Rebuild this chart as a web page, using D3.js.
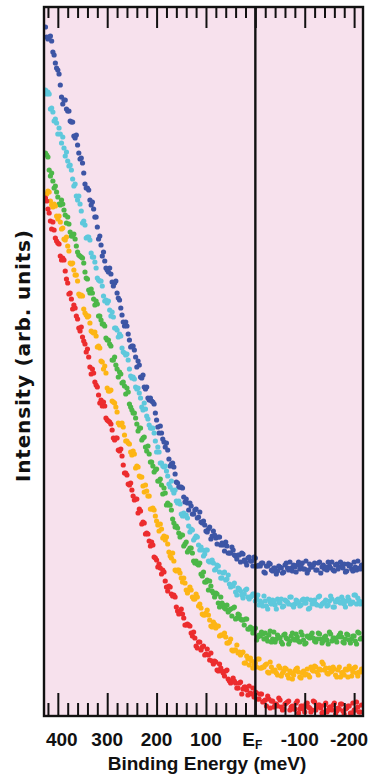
<!DOCTYPE html>
<html>
<head>
<meta charset="utf-8">
<script src="https://cdn.jsdelivr.net/npm/d3@7"></script>
<style>
  html, body { margin: 0; padding: 0; background: #ffffff; }
  svg { display: block; }
</style>
</head>
<body>
<svg id="chart" width="371" height="780"></svg>
<script>
// Binding energies of the two interleaved sweeps (meV, positive = below E_F)
const energySweep1 = [
  425,420,415,410,405,400,395,390,385,380,375,370,365,360,355,350,345,340,335,330,
  325,320,315,310,305,300,295,290,285,280,275,270,265,260,255,250,245,240,235,230,
  225,220,215,210,205,200,195,190,185,180,175,170,165,160,155,150,145,140,135,130,
  125,120,115,110,105,100,95,90,85,80,75,70,65,60,55,50,45,40,35,30,
  25,20,15,10,5,0,-5,-10,-15,-20,-25,-30,-35,-40,-45,-50,-55,-60,-65,-70,
  -75,-80,-85,-90,-95,-100,-105,-110,-115,-120,-125,-130,-135,-140,-145,-150,-155,-160,-165,-170,
  -175,-180,-185,-190,-195,-200,-205,-210,-215
];
const energySweep2 = [
  422.5,417.5,412.5,407.5,402.5,397.5,392.5,387.5,382.5,377.5,372.5,367.5,362.5,357.5,352.5,347.5,
  342.5,337.5,332.5,327.5,322.5,317.5,312.5,307.5,302.5,297.5,292.5,287.5,282.5,277.5,272.5,267.5,
  262.5,257.5,252.5,247.5,242.5,237.5,232.5,227.5,222.5,217.5,212.5,207.5,202.5,197.5,192.5,187.5,
  182.5,177.5,172.5,167.5,162.5,157.5,152.5,147.5,142.5,137.5,132.5,127.5,122.5,117.5,112.5,107.5,
  102.5,97.5,92.5,87.5,82.5,77.5,72.5,67.5,62.5,57.5,52.5,47.5,42.5,37.5,32.5,27.5,
  22.5,17.5,12.5,7.5,2.5,-2.5,-7.5,-12.5,-17.5,-22.5,-27.5,-32.5,-37.5,-42.5,-47.5,-52.5,
  -57.5,-62.5,-67.5,-72.5,-77.5,-82.5,-87.5,-92.5,-97.5,-102.5,-107.5,-112.5,-117.5,-122.5,-127.5,-132.5,
  -137.5,-142.5,-147.5,-152.5,-157.5,-162.5,-167.5,-172.5,-177.5,-182.5,-187.5,-192.5,-197.5,-202.5,-207.5,-212.5
];

// Intensity (arb. units), one value per energy of the matching sweep
const blueSweep1 = [
  689,677,680,664,653,646,631,612,616,605,595,594,578,571,557,553,532,528,516,514,
  499,489,480,460,455,446,448,434,433,423,416,401,390,390,376,370,366,349,351,338,
  329,329,316,315,312,296,283,283,274,273,257,252,249,234,229,229,219,217,206,210,
  202,207,199,194,195,185,187,177,185,178,179,171,171,174,163,163,166,160,161,154,
  162,154,158,155,150,158,150,150,153,143,150,152,145,148,145,149,143,151,148,154,
  145,149,151,147,153,147,143,152,149,153,146,154,149,147,146,150,154,145,152,149,
  150,152,145,150,147,154,146,148,151
];
const blueSweep2 = [
  679,679,675,661,648,642,619,616,607,605,594,580,581,563,558,543,528,526,511,507,
  499,477,471,464,448,444,442,430,435,418,408,394,394,382,369,370,359,355,339,341,
  327,318,318,314,303,289,290,277,269,266,250,253,242,233,229,228,214,213,213,202,
  206,198,204,193,191,184,189,180,181,172,179,173,165,170,163,169,161,157,161,163,
  156,151,159,155,159,150,151,153,144,150,153,146,148,142,150,148,144,153,146,148,
  151,144,154,150,147,155,146,149,151,146,153,143,151,149,154,148,146,151,147,154,
  148,144,152,151,145,149,155,147
];
const cyanSweep1 = [
  626,624,607,604,597,582,582,579,560,555,551,537,532,516,512,493,491,479,476,459,
  454,438,435,430,415,413,406,404,388,386,382,368,363,362,347,338,337,327,323,309,
  313,300,291,288,283,264,264,253,249,245,232,235,223,215,215,202,203,201,190,187,
  176,180,171,169,160,166,155,155,153,147,150,138,143,136,141,129,130,124,128,125,
  118,126,119,119,122,115,121,115,110,115,107,114,116,111,117,113,109,116,114,119,
  111,112,115,110,116,113,117,108,112,116,111,120,112,114,110,115,117,109,116,114,
  119,112,115,116,113,121,112,115,114
];
const cyanSweep2 = [
  622,622,608,595,593,588,573,568,564,550,546,530,520,520,505,495,478,479,463,459,
  448,436,435,420,416,415,400,399,388,379,380,364,361,356,340,339,329,328,318,306,
  307,297,288,288,275,269,253,250,250,240,229,226,226,213,212,200,200,198,184,186,
  178,179,166,166,162,166,154,156,146,151,144,138,144,137,132,131,133,121,127,121,
  122,127,117,120,122,118,111,113,120,110,117,112,115,107,114,117,110,115,112,119,
  109,116,113,111,117,113,107,116,114,112,119,110,113,116,111,120,109,114,117,113,
  116,109,119,112,114,121,118,112
];
const greenSweep1 = [
  563,559,540,535,530,519,511,512,501,499,484,480,477,464,460,458,444,437,423,423,
  411,412,400,392,390,376,372,356,359,347,344,333,330,328,312,306,303,292,288,276,
  279,265,262,254,244,247,235,231,228,211,211,206,193,190,183,181,170,174,166,168,
  155,155,151,142,144,134,126,130,123,123,113,119,111,107,104,107,108,97,102,97,
  96,97,87,89,83,88,79,80,82,83,75,85,77,74,81,78,72,82,77,75,
  83,76,79,74,81,72,80,78,83,75,77,82,73,79,76,84,75,78,74,81,
  79,73,82,76,77,80,72,83,78
];
const greenSweep2 = [
  561,546,543,528,524,512,516,506,493,492,480,482,470,461,459,453,438,426,427,417,
  415,400,396,392,378,376,370,356,351,339,342,334,322,324,309,303,298,285,288,278,
  269,270,254,250,246,235,237,222,223,213,211,197,189,188,179,181,172,164,168,163,
  153,152,153,140,134,136,135,125,119,122,109,113,108,111,106,100,109,98,101,96,
  91,97,87,87,87,76,81,84,77,78,81,74,84,77,79,74,81,78,72,80,
  77,82,75,84,76,73,79,81,78,74,83,77,75,80,72,82,78,76,79,83,
  74,77,81,73,80,75,84,77
];
const orangeSweep1 = [
  522,525,515,509,510,497,494,488,476,470,453,453,441,435,420,420,403,399,393,384,
  384,369,368,354,350,328,325,315,313,304,291,293,281,275,272,261,262,250,240,239,
  224,225,220,207,206,195,185,187,180,179,164,158,155,145,146,138,138,126,126,126,
  117,122,110,108,101,103,101,90,94,88,90,81,81,79,73,77,65,66,63,61,
  64,53,57,58,48,53,57,48,49,51,44,54,45,46,41,48,43,48,41,45,
  37,45,48,39,43,41,47,39,46,50,44,47,54,46,43,48,45,47,39,49,
  43,41,46,50,40,48,43,44,47
];
const orangeSweep2 = [
  522,524,511,512,500,500,487,477,479,465,452,446,441,422,421,407,401,400,385,383,
  380,370,355,347,343,325,326,314,309,293,292,289,275,273,264,265,248,249,239,230,
  231,220,207,208,200,191,192,178,176,172,160,163,146,146,143,134,133,123,129,119,
  117,119,112,102,101,106,96,89,92,90,80,81,83,73,74,66,66,71,64,63,
  53,60,51,55,52,49,57,48,49,52,43,49,45,43,50,40,45,47,38,43,
  41,47,44,38,45,42,41,49,45,49,41,46,52,48,42,44,49,41,46,39,
  44,47,39,47,44,49,40,44
];
const redSweep1 = [
  518,507,495,494,478,473,460,458,445,433,423,407,408,397,385,379,372,367,349,347,
  334,329,313,310,310,296,294,286,276,278,265,260,243,241,231,226,216,217,207,192,
  193,183,175,174,159,156,152,142,144,129,130,122,121,109,102,107,98,91,91,83,
  84,70,74,66,70,62,61,63,52,54,45,48,43,45,37,33,38,33,28,34,
  27,29,21,23,28,24,17,22,14,16,20,8,15,12,10,16,6,12,14,6,
  10,7,15,7,10,4,13,8,6,14,9,11,3,11,4,9,6,13,5,7,
  12,2,8,10,3,6,14,4,11
];
const redSweep2 = [
  515,503,487,486,475,472,456,456,437,422,417,411,400,388,389,375,364,359,342,343,
  331,321,316,314,298,295,292,278,278,266,267,251,243,232,233,220,217,203,205,194,
  182,182,170,171,158,149,148,146,135,125,129,120,119,105,103,102,91,92,90,80,
  78,68,74,69,61,67,56,55,55,46,52,45,40,46,35,35,35,28,33,22,
  29,26,30,22,19,23,17,22,15,10,17,15,9,12,18,9,7,13,15,9,
  7,13,3,10,7,12,9,4,15,6,11,8,4,13,6,9,11,2,8,12,
  5,7,10,3,13,6,9,4
];

// Axis ticks and labels
const majorTicks = [400, 300, 200, 100, 0, -100, -200];
const majorTickLabels = ["400", "300", "200", "100", "E_F", "-100", "-200"];
const minorTicks = [420, 380, 360, 340, 320, 280, 260, 240, 220, 180, 160, 140, 120,
                    80, 60, 40, 20, -20, -40, -60, -80, -120, -140, -160, -180];
const xTitle = "Binding Energy (meV)";
const yTitle = "Intensity (arb. units)";

const series = [
  { sweeps: [blueSweep1, blueSweep2],     color: "#3d55a5" },
  { sweeps: [cyanSweep1, cyanSweep2],     color: "#5ec8dc" },
  { sweeps: [greenSweep1, greenSweep2],   color: "#4cb748" },
  { sweeps: [orangeSweep1, orangeSweep2], color: "#fdb515" },
  { sweeps: [redSweep1, redSweep2],       color: "#ec2c2e" }
];
const sweepEnergies = [energySweep1, energySweep2];

const svg = d3.select("#chart");
const frame = { left: 44, right: 363, top: 7, bottom: 716 };

const x = d3.scaleLinear().domain([428, -218]).range([frame.left, frame.right]);
const y = d3.scaleLinear().domain([0, 709]).range([frame.bottom, frame.top]);

// panel background
svg.append("rect")
  .attr("x", frame.left).attr("y", frame.top)
  .attr("width", frame.right - frame.left).attr("height", frame.bottom - frame.top)
  .attr("fill", "#f7e1ed");

svg.append("clipPath").attr("id", "plotClip")
  .append("rect")
  .attr("x", frame.left).attr("y", frame.top)
  .attr("width", frame.right - frame.left).attr("height", frame.bottom - frame.top);

// spectra as scatter points
const dots = svg.append("g").attr("clip-path", "url(#plotClip)");
series.forEach(s => {
  const pts = [];
  s.sweeps.forEach((vals, k) => {
    sweepEnergies[k].forEach((e, i) => {
      if (vals[i] != null) pts.push({ e, v: vals[i] });
    });
  });
  dots.append("g")
    .selectAll("circle")
    .data(pts)
    .join("circle")
    .attr("cx", d => x(d.e))
    .attr("cy", d => y(d.v))
    .attr("r", 2.6)
    .attr("fill", s.color);
});

// Fermi level marker
svg.append("line")
  .attr("x1", x(0)).attr("x2", x(0))
  .attr("y1", frame.top).attr("y2", frame.bottom)
  .attr("stroke", "#111").attr("stroke-width", 2.4);

// ticks on bottom and top edges, pointing into the panel
function tickAxis(axisFn, values, len, ypos) {
  const g = svg.append("g")
    .attr("transform", `translate(0,${ypos})`)
    .call(axisFn(x).tickValues(values).tickSizeInner(-len).tickSizeOuter(0).tickFormat(""));
  g.select(".domain").remove();
  g.selectAll(".tick line").attr("stroke", "#111").attr("stroke-width", 2);
  g.selectAll(".tick text").remove();
  return g;
}
tickAxis(d3.axisBottom, majorTicks, 23, frame.bottom);
tickAxis(d3.axisBottom, minorTicks, 13, frame.bottom);
tickAxis(d3.axisTop, majorTicks, 21, frame.top);
tickAxis(d3.axisTop, minorTicks, 11, frame.top);

// tick labels
const labelFont = "'Liberation Sans', Arial, sans-serif";
const labels = svg.append("g")
  .attr("font-family", labelFont)
  .attr("font-weight", "bold")
  .attr("font-size", 19)
  .attr("fill", "#111")
  .attr("text-anchor", "middle");
majorTicks.forEach((t, i) => {
  const lab = majorTickLabels[i];
  let dx = 0;
  if (t < 0) dx = -5;
  if (t === 400) dx = 4;
  const txt = labels.append("text")
    .attr("x", x(t) + dx)
    .attr("y", 746);
  if (lab.includes("_")) {
    const [base, sub] = lab.split("_");
    txt.attr("x", x(t) - 3);
    txt.append("tspan").text(base);
    txt.append("tspan").attr("font-size", 12).attr("dy", 3).text(sub);
  } else {
    txt.text(lab);
  }
});

// axis titles
svg.append("text")
  .attr("x", 207).attr("y", 770)
  .attr("text-anchor", "middle")
  .attr("font-family", labelFont)
  .attr("font-weight", "bold")
  .attr("font-size", 19)
  .attr("fill", "#111")
  .text(xTitle);

svg.append("text")
  .attr("transform", "translate(30,356) rotate(-90)")
  .attr("text-anchor", "middle")
  .attr("font-family", "'DejaVu Sans', Verdana, sans-serif")
  .attr("font-weight", "bold")
  .attr("font-size", 20)
  .attr("textLength", 252)
  .attr("lengthAdjust", "spacing")
  .attr("fill", "#111")
  .text(yTitle);

// panel frame
svg.append("rect")
  .attr("x", frame.left).attr("y", frame.top)
  .attr("width", frame.right - frame.left).attr("height", frame.bottom - frame.top)
  .attr("fill", "none").attr("stroke", "#111").attr("stroke-width", 2.4);
</script>
</body>
</html>
